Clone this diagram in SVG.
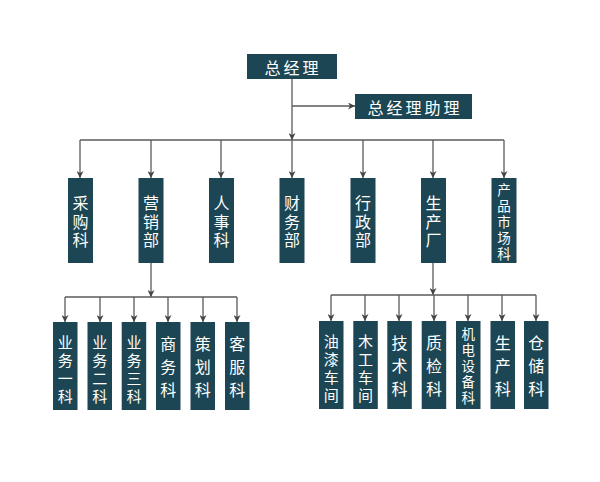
<svg xmlns="http://www.w3.org/2000/svg" width="600" height="482" viewBox="0 0 600 482">
<style>
.bx{fill:#1c4653;}
.t{fill:#ffffff;font-family:"Noto Sans CJK SC","Noto Sans",sans-serif;font-size:16px;text-anchor:middle;dominant-baseline:central;}
.m{font-size:15px;}
.s{font-size:13.5px;}
.ln{stroke:#5a5a5a;stroke-width:1.3;fill:none;}
</style>
<defs>
<marker id="ar" viewBox="0 0 10 10" refX="10" refY="5" markerWidth="7" markerHeight="7" markerUnits="userSpaceOnUse" orient="auto">
<path d="M0,0 L10,5 L0,10 L3,5 Z" fill="#444"/>
</marker>
</defs>
<rect width="600" height="482" fill="#ffffff"/>
<g id="connectors">
<path class="ln" d="M292,79 V140" marker-end="url(#ar)"/>
<path class="ln" d="M292,106 H355" marker-end="url(#ar)"/>
<path class="ln" d="M80,140 H504"/>
<path class="ln" d="M80,140 V178" marker-end="url(#ar)"/>
<path class="ln" d="M151,140 V178" marker-end="url(#ar)"/>
<path class="ln" d="M221,140 V178" marker-end="url(#ar)"/>
<path class="ln" d="M292,140 V178" marker-end="url(#ar)"/>
<path class="ln" d="M363,140 V178" marker-end="url(#ar)"/>
<path class="ln" d="M433,140 V178" marker-end="url(#ar)"/>
<path class="ln" d="M504,140 V178" marker-end="url(#ar)"/>
<path class="ln" d="M151,263 V297" marker-end="url(#ar)"/>
<path class="ln" d="M65,297 H237"/>
<path class="ln" d="M65,297 V322" marker-end="url(#ar)"/>
<path class="ln" d="M100,297 V322" marker-end="url(#ar)"/>
<path class="ln" d="M134,297 V322" marker-end="url(#ar)"/>
<path class="ln" d="M168,297 V322" marker-end="url(#ar)"/>
<path class="ln" d="M203,297 V322" marker-end="url(#ar)"/>
<path class="ln" d="M237,297 V322" marker-end="url(#ar)"/>
<path class="ln" d="M433,263 V295" marker-end="url(#ar)"/>
<path class="ln" d="M331,295 H536"/>
<path class="ln" d="M331,295 V321" marker-end="url(#ar)"/>
<path class="ln" d="M365,295 V321" marker-end="url(#ar)"/>
<path class="ln" d="M399,295 V321" marker-end="url(#ar)"/>
<path class="ln" d="M434,295 V321" marker-end="url(#ar)"/>
<path class="ln" d="M468,295 V321" marker-end="url(#ar)"/>
<path class="ln" d="M502,295 V321" marker-end="url(#ar)"/>
<path class="ln" d="M536,295 V321" marker-end="url(#ar)"/>
</g>
<g id="gm"><rect class="bx" x="247" y="54" width="90" height="25"/><text class="t" x="293" y="66.5" letter-spacing="3" font-size="17">总经理</text></g>
<g id="gma"><rect class="bx" x="355" y="94" width="117" height="25"/><text class="t" x="415" y="106.5" letter-spacing="3" font-size="17">总经理助理</text></g>

<g id="cg"><rect class="bx" x="68" y="178" width="25" height="85"/><text class="t"><tspan x="80.5" y="202">采</tspan><tspan x="80.5" y="220.5">购</tspan><tspan x="80.5" y="239">科</tspan></text></g>
<g id="yx"><rect class="bx" x="138.5" y="178" width="25" height="85"/><text class="t"><tspan x="151" y="202">营</tspan><tspan x="151" y="220.5">销</tspan><tspan x="151" y="239">部</tspan></text></g>
<g id="rs"><rect class="bx" x="209" y="178" width="25" height="85"/><text class="t"><tspan x="221.5" y="202">人</tspan><tspan x="221.5" y="220.5">事</tspan><tspan x="221.5" y="239">科</tspan></text></g>
<g id="cw"><rect class="bx" x="279.5" y="178" width="25" height="85"/><text class="t"><tspan x="292" y="202">财</tspan><tspan x="292" y="220.5">务</tspan><tspan x="292" y="239">部</tspan></text></g>
<g id="xz"><rect class="bx" x="350.5" y="178" width="25" height="85"/><text class="t"><tspan x="363" y="202">行</tspan><tspan x="363" y="220.5">政</tspan><tspan x="363" y="239">部</tspan></text></g>
<g id="scc"><rect class="bx" x="421" y="178" width="25" height="85"/><text class="t"><tspan x="433.5" y="202">生</tspan><tspan x="433.5" y="220.5">产</tspan><tspan x="433.5" y="239">厂</tspan></text></g>
<g id="cpsc"><rect class="bx" x="491.5" y="178" width="25" height="85"/><text class="t s"><tspan x="504" y="189">产</tspan><tspan x="504" y="205">品</tspan><tspan x="504" y="221">市</tspan><tspan x="504" y="237">场</tspan><tspan x="504" y="253">科</tspan></text></g>

<g id="yw1"><rect class="bx" x="53" y="322" width="24.5" height="88"/><text class="t m"><tspan x="65.3" y="341">业</tspan><tspan x="65.3" y="359">务</tspan><tspan x="65.3" y="377">一</tspan><tspan x="65.3" y="395">科</tspan></text></g>
<g id="yw2"><rect class="bx" x="87.5" y="322" width="24.5" height="88"/><text class="t m"><tspan x="99.8" y="341">业</tspan><tspan x="99.8" y="359">务</tspan><tspan x="99.8" y="377">二</tspan><tspan x="99.8" y="395">科</tspan></text></g>
<g id="yw3"><rect class="bx" x="121.7" y="322" width="24.5" height="88"/><text class="t m"><tspan x="134" y="341">业</tspan><tspan x="134" y="359">务</tspan><tspan x="134" y="377">三</tspan><tspan x="134" y="395">科</tspan></text></g>
<g id="sw"><rect class="bx" x="156" y="322" width="24.5" height="88"/><text class="t"><tspan x="168.3" y="343">商</tspan><tspan x="168.3" y="366">务</tspan><tspan x="168.3" y="389">科</tspan></text></g>
<g id="ch"><rect class="bx" x="190.5" y="322" width="24.5" height="88"/><text class="t"><tspan x="202.8" y="343">策</tspan><tspan x="202.8" y="366">划</tspan><tspan x="202.8" y="389">科</tspan></text></g>
<g id="kf"><rect class="bx" x="225" y="322" width="24.5" height="88"/><text class="t"><tspan x="237.3" y="343">客</tspan><tspan x="237.3" y="366">服</tspan><tspan x="237.3" y="389">科</tspan></text></g>

<g id="yq"><rect class="bx" x="319" y="321" width="24.5" height="88"/><text class="t m"><tspan x="331.3" y="340">油</tspan><tspan x="331.3" y="358">漆</tspan><tspan x="331.3" y="376">车</tspan><tspan x="331.3" y="394">间</tspan></text></g>
<g id="mg"><rect class="bx" x="353.3" y="321" width="24.5" height="88"/><text class="t m"><tspan x="365.5" y="340">木</tspan><tspan x="365.5" y="358">工</tspan><tspan x="365.5" y="376">车</tspan><tspan x="365.5" y="394">间</tspan></text></g>
<g id="js"><rect class="bx" x="387.3" y="321" width="24.5" height="88"/><text class="t"><tspan x="399.5" y="342">技</tspan><tspan x="399.5" y="365">术</tspan><tspan x="399.5" y="388">科</tspan></text></g>
<g id="zj"><rect class="bx" x="421.7" y="321" width="24.5" height="88"/><text class="t"><tspan x="433.9" y="342">质</tspan><tspan x="433.9" y="365">检</tspan><tspan x="433.9" y="388">科</tspan></text></g>
<g id="jd"><rect class="bx" x="456" y="321" width="24.5" height="88"/><text class="t s"><tspan x="468.3" y="333">机</tspan><tspan x="468.3" y="349">电</tspan><tspan x="468.3" y="365">设</tspan><tspan x="468.3" y="381">备</tspan><tspan x="468.3" y="397">科</tspan></text></g>
<g id="sc"><rect class="bx" x="490.5" y="321" width="24.5" height="88"/><text class="t"><tspan x="502.7" y="342">生</tspan><tspan x="502.7" y="365">产</tspan><tspan x="502.7" y="388">科</tspan></text></g>
<g id="cc"><rect class="bx" x="524" y="321" width="24.5" height="88"/><text class="t"><tspan x="536.3" y="342">仓</tspan><tspan x="536.3" y="365">储</tspan><tspan x="536.3" y="388">科</tspan></text></g>
</svg>
